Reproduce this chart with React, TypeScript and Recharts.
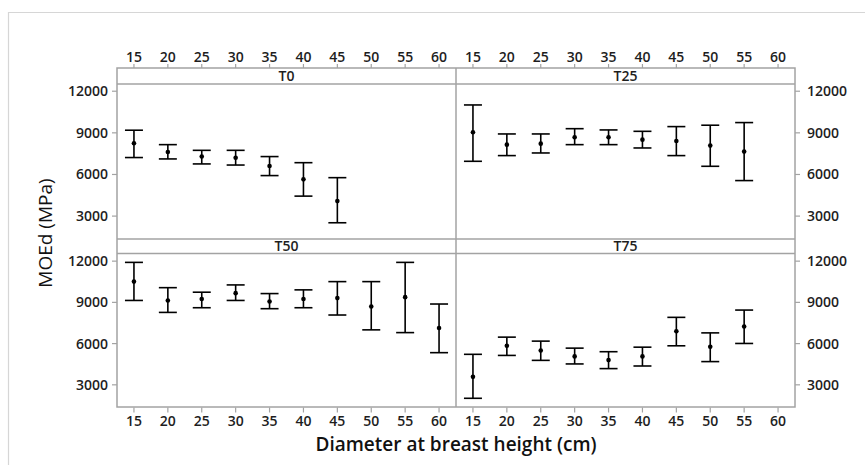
import React from "react"
import { ComposedChart, ErrorBar, Scatter, XAxis, YAxis } from "recharts"

// diameter classes (cm)
const dbh = [15, 20, 25, 30, 35, 40, 45, 50, 55, 60]
const xTicks = [15, 20, 25, 30, 35, 40, 45, 50, 55, 60]
const yTicks = [3000, 6000, 9000, 12000]

// MOEd (MPa): mean with lower / upper interval limits
const t0Mean = [8250, 7620, 7290, 7210, 6610, 5650, 4080]
const t0Low = [7220, 7120, 6760, 6680, 5920, 4440, 2520]
const t0High = [9190, 8150, 7740, 7740, 7290, 6850, 5770]

const t25Mean = [9040, 8150, 8220, 8680, 8680, 8510, 8410, 8080, 7650]
const t25Low = [6950, 7360, 7550, 8150, 8150, 7910, 7360, 6590, 5560]
const t25High = [11010, 8920, 8920, 9300, 9210, 9110, 9450, 9550, 9740]

const t50Mean = [10510, 9140, 9240, 9670, 9060, 9240, 9310, 8700, 9380, 7140]
const t50Low = [9140, 8270, 8610, 9140, 8540, 8610, 8080, 7000, 6800, 5340]
const t50High = [11910, 10070, 9740, 10270, 9640, 9910, 10510, 10510, 11910, 8880]

const t75Mean = [3580, 5840, 5500, 5070, 4800, 5070, 6900, 5770, 7240]
const t75Low = [2020, 5140, 4780, 4520, 4180, 4370, 5840, 4690, 6010]
const t75High = [5220, 6470, 6180, 5670, 5410, 5740, 7910, 6780, 8440]

const FONT = "'Open Sans', 'Noto Sans', sans-serif"
const GRID = "#a3a3a3"
const TEXT = "#1e1e1e"
const Y_DOMAIN: [number, number] = [1350, 12520]
const X_DOMAIN: [number, number] = [12.5, 62.5]

function buildRows(mean: number[], low: number[], high: number[]) {
  return mean.map((m, i) => ({ dbh: dbh[i], mean: m, err: [m - low[i], high[i] - m] }))
}

const TopTick = (props: any) => {
  const { x, y, payload } = props
  return (
    <g>
      <line x1={x} x2={x} y1={y - 16} y2={y - 20} stroke={GRID} strokeWidth={1.2} />
      <text x={x} y={y - 22} textAnchor="middle" fill={TEXT} fontSize={14} fontFamily={FONT} fontWeight={600}>
        {payload.value}
      </text>
    </g>
  )
}

const Dot = (props: any) => <circle cx={props.cx} cy={props.cy} r={2.3} fill="#000" />

const YW = 64
const XH = 40
const PAD = 14

function Panel({
  rows,
  plotLeft,
  plotTop,
  plotW,
  plotH,
  yRight,
  xTop,
}: {
  rows: any[]
  plotLeft: number
  plotTop: number
  plotW: number
  plotH: number
  yRight: boolean
  xTop: boolean
}) {
  const left = plotLeft - (yRight ? 0 : YW)
  const top = plotTop - (xTop ? XH : PAD)
  const margin = xTop ? { top: 0, right: 0, bottom: PAD, left: 0 } : { top: PAD, right: 0, bottom: 0, left: 0 }
  const tickStyle = { fill: TEXT, fontSize: 14, fontFamily: FONT, fontWeight: 600 }
  return (
    <div style={{ position: "absolute", left, top }}>
      <ComposedChart width={plotW + YW} height={plotH + XH + PAD} data={rows} margin={margin}>
        {xTop ? (
          <XAxis
            type="number"
            dataKey="dbh"
            domain={X_DOMAIN}
            ticks={xTicks}
            allowDataOverflow
            orientation="top"
            height={XH}
            axisLine={false}
            tickLine={false}
            tickSize={0}
            tickMargin={0}
            tick={<TopTick />}
            interval={0}
          />
        ) : (
          <XAxis
            type="number"
            dataKey="dbh"
            domain={X_DOMAIN}
            ticks={xTicks}
            allowDataOverflow
            orientation="bottom"
            height={XH}
            axisLine={false}
            tickLine={{ stroke: GRID, strokeWidth: 1.2 }}
            tickSize={5}
            tickMargin={4}
            tick={tickStyle}
            interval={0}
          />
        )}
        <YAxis
          type="number"
          domain={Y_DOMAIN}
          ticks={yTicks}
          allowDataOverflow
          orientation={yRight ? "right" : "left"}
          width={YW}
          axisLine={false}
          tickLine={{ stroke: GRID, strokeWidth: 1.2 }}
          tickSize={5}
          tickMargin={yRight ? 7 : 4}
          tick={tickStyle}
          interval={0}
        />
        <Scatter dataKey="mean" shape={<Dot />} isAnimationActive={false}>
          <ErrorBar dataKey="err" direction="y" width={9} stroke="#000" strokeWidth={1.6} isAnimationActive={false} />
        </Scatter>
      </ComposedChart>
    </div>
  )
}

export default function App() {
  const L = 117
  const M = 456
  const R = 795
  const stripTop = 68
  const topPlot = 84
  const midStrip = 239
  const bottomPlot = 253.5
  const bottom = 407
  const stripText = { fontFamily: FONT, fontSize: 14, fontWeight: 600, fill: TEXT, textAnchor: "middle" as const }

  return (
    <div style={{ position: "absolute", left: 0, top: 0, width: 865, height: 465, background: "#fff", overflow: "hidden" }}>
      <Panel rows={buildRows(t0Mean, t0Low, t0High)} plotLeft={L} plotTop={topPlot} plotW={M - L} plotH={midStrip - topPlot} yRight={false} xTop />
      <Panel rows={buildRows(t25Mean, t25Low, t25High)} plotLeft={M} plotTop={topPlot} plotW={R - M} plotH={midStrip - topPlot} yRight xTop />
      <Panel rows={buildRows(t50Mean, t50Low, t50High)} plotLeft={L} plotTop={bottomPlot} plotW={M - L} plotH={bottom - bottomPlot} yRight={false} xTop={false} />
      <Panel rows={buildRows(t75Mean, t75Low, t75High)} plotLeft={M} plotTop={bottomPlot} plotW={R - M} plotH={bottom - bottomPlot} yRight xTop={false} />

      <svg width={865} height={465} style={{ position: "absolute", left: 0, top: 0, pointerEvents: "none" }}>
        <polyline points="8.5,465 8.5,12.5 865,12.5" fill="none" stroke="#d6d6d6" strokeWidth={1.2} />
        <g stroke={GRID} strokeWidth={1.5} fill="none">
          <rect x={L} y={stripTop} width={R - L} height={bottom - stripTop} />
          <line x1={M} x2={M} y1={stripTop} y2={bottom} />
          <line x1={L} x2={R} y1={topPlot} y2={topPlot} />
          <line x1={L} x2={R} y1={midStrip} y2={midStrip} />
          <line x1={L} x2={R} y1={bottomPlot} y2={bottomPlot} />
        </g>
        <text x={(L + M) / 2} y={81} {...stripText}>T0</text>
        <text x={(M + R) / 2} y={81} {...stripText}>T25</text>
        <text x={(L + M) / 2} y={251} {...stripText}>T50</text>
        <text x={(M + R) / 2} y={251} {...stripText}>T75</text>
        <text x={456} y={451} textAnchor="middle" fontFamily={FONT} fontSize={19} fontWeight={600} fill="#111">
          Diameter at breast height (cm)
        </text>
        <text
          x={0}
          y={0}
          transform="translate(52,233) rotate(-90)"
          textAnchor="middle"
          fontFamily={FONT}
          fontSize={19}
          fill="#111"
        >
          MOEd (MPa)
        </text>
      </svg>
    </div>
  )
}
